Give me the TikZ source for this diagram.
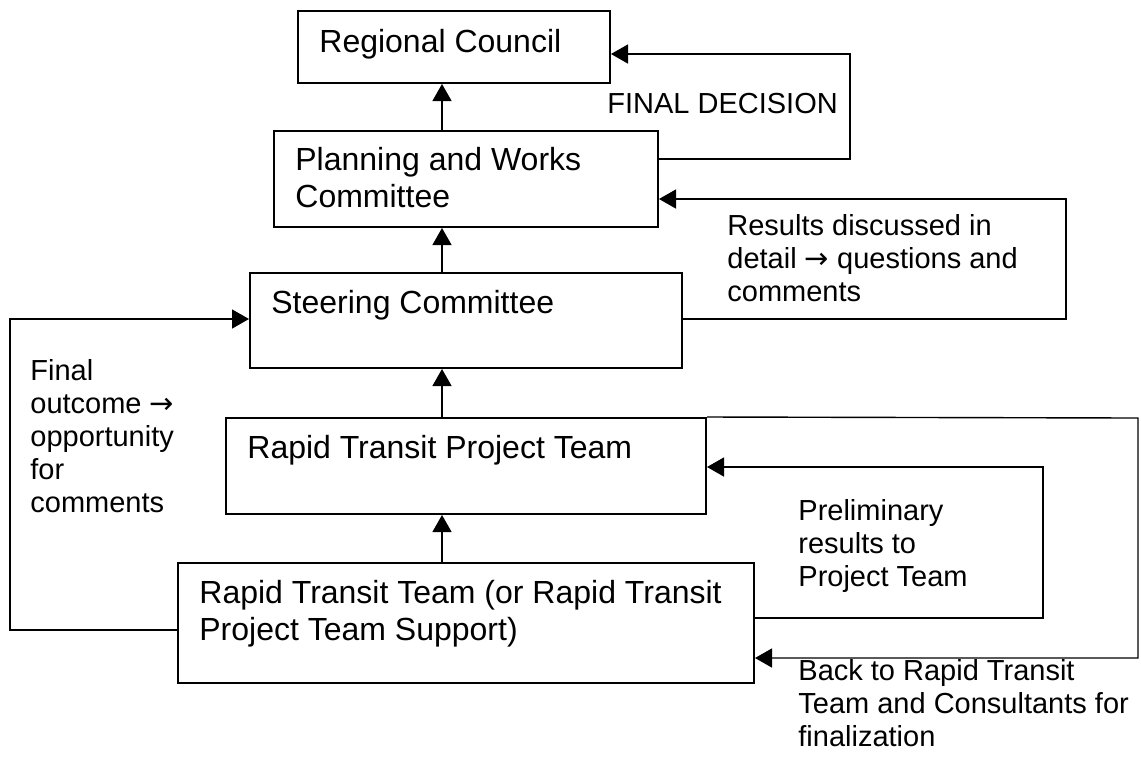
\documentclass[tikz,border=0pt]{standalone}
\usepackage{fontspec}
\setmainfont{Liberation Sans}
\newfontfamily\arrowfont{DejaVu Sans}
\usepackage{tikz}
\usetikzlibrary{arrows.meta}

\newcommand{\thento}{{\arrowfont →}}

\tikzset{
  box/.style={draw, line width=1pt, inner sep=0pt},
  boxtext/.style={anchor=base west, align=left, inner sep=0pt, font=\fontsize{16}{18.5}\selectfont},
  lbl/.style={anchor=base west, align=left, inner sep=0pt, font=\fontsize{14.5}{16.5}\selectfont},
  arr/.style={line width=0.7pt, -{Triangle[length=8.5pt,width=9.5pt]}}
}

\begin{document}
\begin{tikzpicture}[x=0.5pt,y=-0.5pt]

		\useasboundingbox (0,0) rectangle (1141,757);

		\node[box, minimum width=156pt, minimum height=36pt] (rc) at (454,47) {};
		\node[box, minimum width=192pt, minimum height=48pt] (pwc) at (466,179) {};
		\node[box, minimum width=216pt, minimum height=47.5pt] (sc) at (466,320.5) {};
		\node[box, minimum width=240pt, minimum height=48pt] (rtpt) at (466,466) {};
		\node[box, minimum width=288pt, minimum height=60pt] (rtt) at (466,623) {};

		% multi-line texts are placed at the baseline of their last line
		\node[boxtext] (rctext) at (319,52) {Regional Council};
		\node[boxtext] (pwctext) at (295,207) {Planning and Works\\Committee};
		\node[boxtext] (sctext) at (271,313) {Steering Committee};
		\node[boxtext] (rtpttext) at (247,458) {Rapid Transit Project Team};
		\node[boxtext] (rtttext) at (199,640) {Rapid Transit Team (or Rapid Transit\\Project Team Support)};

		\coordinate (ax) at (442,0);
		\foreach \a/\b in {pwc/rc, sc/pwc, rtpt/sc, rtt/rtpt}
			\draw[arr] (\a.north -| ax) -- (\b.south -| ax);

		\coordinate (fdb) at (850,159);
		\coordinate (fdt) at (850,54);
		\draw[arr] (pwc.east |- fdb) -- (fdb) -- (fdt) -- (rc.east |- fdt);
		\node[lbl] (fdlabel) at (607,113) {FINAL DECISION};

		\coordinate (rdb) at (1066,319);
		\coordinate (rdt) at (1066,199);
		\draw[arr] (sc.east |- rdb) -- (rdb) -- (rdt) -- (pwc.east |- rdt);
		\node[lbl] (rdlabel) at (727,301) {Results discussed in\\detail \thento{} questions and\\comments};

		\coordinate (fob) at (10,630);
		\coordinate (fot) at (10,319);
		\draw[arr] (rtt.west |- fob) -- (fob) -- (fot) -- (sc.west |- fot);
		\node[lbl] (folabel) at (30,512) {Final\\outcome \thento\\opportunity\\for\\comments};

		\coordinate (prb) at (1043,618);
		\coordinate (prt) at (1043,467);
		\draw[arr] (rtt.east |- prb) -- (prb) -- (prt) -- (rtpt.east |- prt);
		\node[lbl] (prlabel) at (798,586) {Preliminary\\results to\\Project Team};

		\coordinate (bkt) at (1138,418);
		\coordinate (bkb) at (1138,658);
		\draw[arr] (rtpt.north east) -- (bkt) -- (bkb) -- (rtt.east |- bkb);
		\node[lbl] (bklabel) at (798,746) {Back to Rapid Transit\\Team and Consultants for\\finalization};

	\end{tikzpicture}
\end{document}
